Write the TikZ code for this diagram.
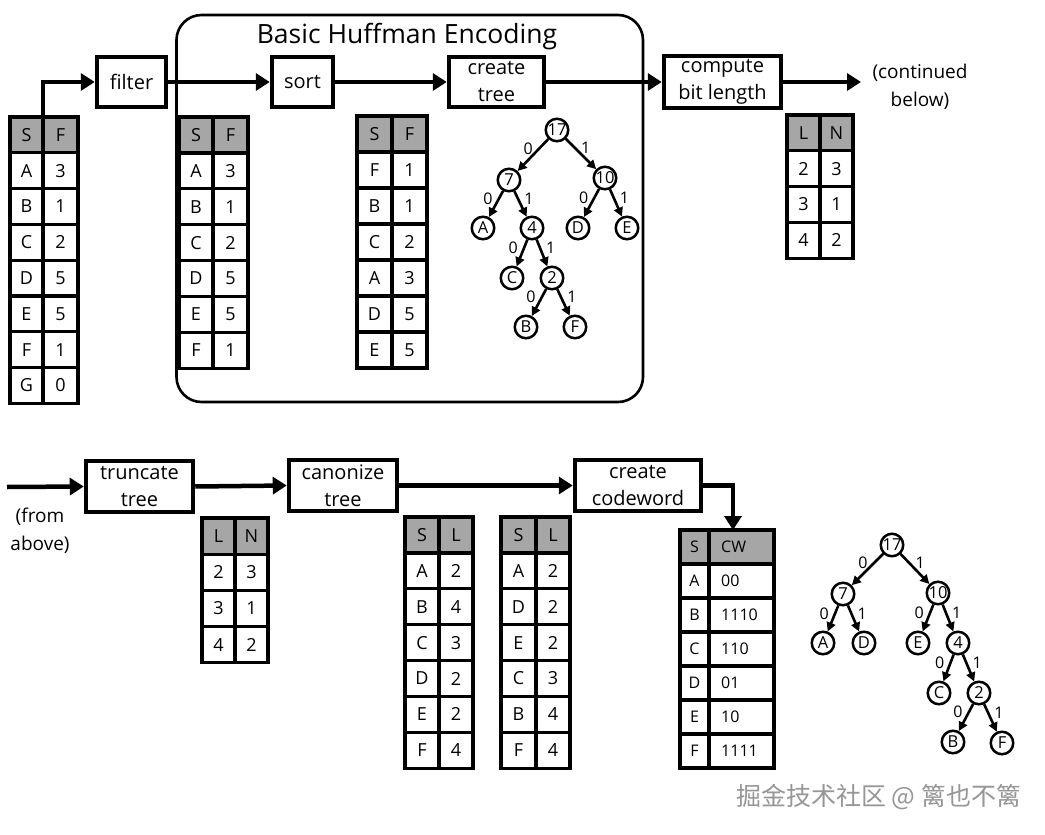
\documentclass[tikz,border=0pt]{standalone}
\usepackage{fontspec}
\setmainfont{Open Sans}
\newfontfamily\cjk{Noto Sans CJK SC}
\usetikzlibrary{arrows.meta}
\definecolor{hdrgray}{RGB}{166,166,166}
\definecolor{wmgray}{RGB}{150,150,150}
\tikzset{
  procbox/.style={draw, line width=4.5pt, align=center, inner sep=0pt, font=\fontsize{20}{27}\selectfont},
  flow/.style={line width=4.5pt, -{Triangle[length=14pt,width=17pt]}},
  cell/.style={inner sep=0pt, font=\fontsize{18}{20}\selectfont},
  smallcell/.style={inner sep=0pt, font=\fontsize{16}{18}\selectfont},
  tline/.style={line width=3.2pt},
  tn/.style={draw, circle, line width=2.5pt, minimum size=22.5pt, inner sep=0pt, font=\fontsize{16.5}{16.5}\selectfont},
  tedge/.style={line width=2.6pt, -{Triangle[length=9pt,width=9pt]}},
  el/.style={font=\fontsize{16}{16}\selectfont, inner sep=1pt},
  lz/.style={el, pos=0.3, left=4pt},
  lo/.style={el, pos=0.3, right=4pt},
  note/.style={align=center, inner sep=0pt, font=\fontsize{19}{28}\selectfont},
}
\newcommand{\hufftable}[8]{%
  \fill[hdrgray] (#2,#3) rectangle ++({#4+#5},#6);
  \foreach[count=\i from 0] \a/\b in {#8}{
    \node[cell] (#1-\i-a) at ({#2+#4/2},{#3+(\i+0.5)*#6}) {\a};
    \node[cell] (#1-\i-b) at ({#2+#4+#5/2},{#3+(\i+0.5)*#6}) {\b};
  }
  \draw[tline] (#2,#3) rectangle ++({#4+#5},{#7*#6});
  \draw[tline] ({#2+#4},#3) -- ++(0,{#7*#6});
  \pgfmathtruncatemacro\nlast{#7-1}
  \foreach \k in {1,...,\nlast} \draw[tline] (#2,{#3+\k*#6}) -- ++({#4+#5},0);
}
\begin{document}
\begin{tikzpicture}[x=1pt,y=-1pt]
\useasboundingbox (0,0) rectangle (1045,835);
\fill[white] (0,0) rectangle (1045,835);

% ---------- top row ----------
\draw[line width=2.6pt, rounded corners=25pt] (176.5,15) rectangle (643,402);
\node[font=\fontsize{26.5}{30}\selectfont, anchor=base, inner sep=0pt] (title) at (407,43) {Basic Huffman Encoding};

\node[procbox, minimum width=69pt, minimum height=50pt] (filter) at (131.5,82) {filter};
\node[procbox, minimum width=61pt, minimum height=50pt] (sort) at (302.5,82) {sort};
\node[procbox, minimum width=95pt, minimum height=50pt] (ctree) at (496.5,82) {create\\tree};
\node[procbox, minimum width=117pt, minimum height=52pt] (cbl) at (722.5,82) {compute\\bit length};
\node[note] (cont) at (920,87) {(continued\\below)};
\coordinate (contend) at (861,82);

\hufftable{ta}{10}{117}{33}{35}{35.8}{8}{S/F,A/3,B/1,C/2,D/5,E/5,F/1,G/0}
\hufftable{tb}{179}{117}{34}{35}{35.9}{7}{S/F,A/3,B/1,C/2,D/5,E/5,F/1}
\hufftable{tc}{357}{116}{35}{35}{36}{7}{S/F,F/1,B/1,C/2,A/3,D/5,E/5}
\hufftable{td}{787}{115}{33}{33}{35.8}{4}{L/N,2/3,3/1,4/2}

\coordinate (tatop) at (43,117);
\draw[flow] (tatop) |- (filter.west);
\draw[flow] (filter.east) -- (sort.west);
\draw[flow] (sort.east) -- (ctree.west);
\draw[flow] (ctree.east) -- (cbl.west);
\draw[flow] (cbl.east) -- (contend);

% tree 1
\node[tn] (a17) at (557,130) {17};
\node[tn] (a7) at (509,180) {7};
\node[tn] (a10) at (605,178) {10};
\node[tn] (aA) at (483,228) {A};
\node[tn] (a4) at (532,228) {4};
\node[tn] (aD) at (578,228) {D};
\node[tn] (aE) at (627,228) {E};
\node[tn] (aC) at (512,278) {C};
\node[tn] (a2) at (552,278) {2};
\node[tn] (aB) at (526,327) {B};
\node[tn] (aF) at (575,327) {F};
\draw[tedge] (a17) -- node[lz]{0} (a7);
\draw[tedge] (a17) -- node[lo]{1} (a10);
\draw[tedge] (a7) -- node[lz]{0} (aA);
\draw[tedge] (a7) -- node[lo]{1} (a4);
\draw[tedge] (a10) -- node[lz]{0} (aD);
\draw[tedge] (a10) -- node[lo]{1} (aE);
\draw[tedge] (a4) -- node[lz]{0} (aC);
\draw[tedge] (a4) -- node[lo]{1} (a2);
\draw[tedge] (a2) -- node[lz]{0} (aB);
\draw[tedge] (a2) -- node[lo]{1} (aF);

% ---------- bottom row ----------
\coordinate (fromstart) at (7,487);
\node[note] (from) at (40,531) {(from\\above)};
\node[procbox, minimum width=107pt, minimum height=51pt] (trunc) at (139.5,486.5) {truncate\\tree};
\node[procbox, minimum width=108pt, minimum height=51pt] (canon) at (343,485.5) {canonize\\tree};
\node[procbox, minimum width=126pt, minimum height=51pt] (ccw) at (638,485.5) {create\\codeword};

\hufftable{tt}{202}{518}{33}{33}{36.2}{4}{L/N,2/3,3/1,4/2}
\hufftable{tf}{405}{517}{34}{34}{35.9}{7}{S/L,A/2,B/4,C/3,D/2,E/2,F/4}
\hufftable{tg}{501}{517}{35}{34}{35.9}{7}{S/L,A/2,D/2,E/2,C/3,B/4,F/4}

% codeword table
\fill[hdrgray] (680,530) rectangle ++(94,34);
\foreach[count=\i from 0] \a/\b in {S/CW,A/00,B/1110,C/110,D/01,E/10,F/1111}{
  \node[smallcell] (cw-\i-a) at (694.5,{530+(\i+0.5)*34}) {\a};
  \node[smallcell, anchor=west] (cw-\i-b) at (721,{530+(\i+0.5)*34}) {\b};
}
\draw[tline] (680,530) rectangle (774,768);
\draw[tline] (709,530) -- (709,768);
\foreach \k in {1,...,6} \draw[tline] (680,{530+\k*34}) -- (774,{530+\k*34});
\coordinate (cwtop) at (733,530);

\draw[flow] (fromstart) -- (trunc.west);
\draw[flow] (trunc.east) -- (canon.west);
\draw[flow] (canon.east) -- (ccw.west);
\draw[flow] (ccw.east) -| (cwtop);

% tree 2
\node[tn] (b17) at (892,545) {17};
\node[tn] (b7) at (843,594) {7};
\node[tn] (b10) at (938,593) {10};
\node[tn] (bA) at (823,643) {A};
\node[tn] (bD) at (864,643) {D};
\node[tn] (bE) at (918,643) {E};
\node[tn] (b4) at (958,643) {4};
\node[tn] (bC) at (939,693) {C};
\node[tn] (b2) at (979,693) {2};
\node[tn] (bB) at (953,742) {B};
\node[tn] (bF) at (1002,743) {F};
\draw[tedge] (b17) -- node[lz]{0} (b7);
\draw[tedge] (b17) -- node[lo]{1} (b10);
\draw[tedge] (b7) -- node[lz]{0} (bA);
\draw[tedge] (b7) -- node[lo]{1} (bD);
\draw[tedge] (b10) -- node[lz]{0} (bE);
\draw[tedge] (b10) -- node[lo]{1} (b4);
\draw[tedge] (b4) -- node[lz]{0} (bC);
\draw[tedge] (b4) -- node[lo]{1} (b2);
\draw[tedge] (b2) -- node[lz]{0} (bB);
\draw[tedge] (b2) -- node[lo]{1} (bF);

% watermark
\node[font=\cjk\fontsize{25}{25}\selectfont, text=wmgray, anchor=west, inner sep=0pt] (wm) at (736,797) {掘金技术社区 @ 篱也不篱};
\end{tikzpicture}
\end{document}
